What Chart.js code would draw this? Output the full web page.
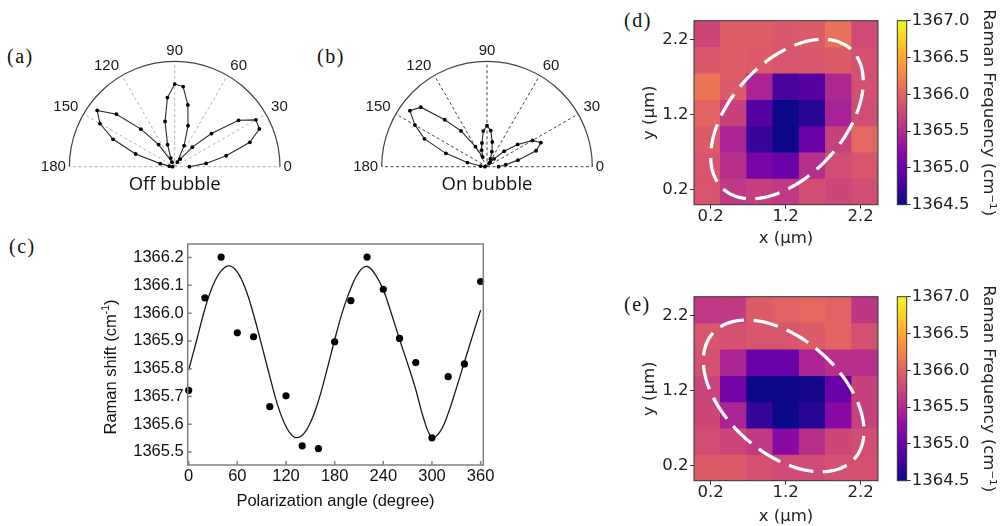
<!DOCTYPE html>
<html>
<head>
<meta charset="utf-8">
<script src="https://cdn.jsdelivr.net/npm/chart.js@4.4.1/dist/chart.umd.min.js"></script>
<style>
  html, body { margin: 0; padding: 0; background: #fff; }
  body { width: 1002px; height: 526px; position: relative; overflow: hidden; }
  canvas { position: absolute; }
  .lbl { position: absolute; font-family: "Liberation Serif", serif; font-size: 20px; letter-spacing: 1.5px; line-height: 1; color: #111; }
</style>
</head>
<body>
<div class="lbl" style="left:7px;top:46px">(a)</div>
<div class="lbl" style="left:317px;top:46px">(b)</div>
<div class="lbl" style="left:9px;top:236px">(c)</div>
<div class="lbl" style="left:624px;top:10px">(d)</div>
<div class="lbl" style="left:624px;top:294px">(e)</div>

<canvas id="polarA" width="280" height="165" style="left:30px;top:35px"></canvas>
<canvas id="polarB" width="280" height="165" style="left:340px;top:35px"></canvas>
<canvas id="shiftC" width="410" height="296" style="left:90px;top:230px"></canvas>
<canvas id="heatD" width="290" height="252" style="left:600px;top:0px"></canvas>
<canvas id="barD" width="112" height="230" style="left:890px;top:0px"></canvas>
<canvas id="heatE" width="290" height="252" style="left:600px;top:276.3px"></canvas>
<canvas id="barE" width="112" height="230" style="left:890px;top:276.3px"></canvas>

<script>
// (a), (b) polarized intensity, one point every 6 degrees
const polarAngles = [0, 6, 12, 18, 24, 30, 36, 42, 48, 54, 60, 66, 72, 78, 84, 90,
  96, 102, 108, 114, 120, 126, 132, 138, 144, 150, 156, 162, 168, 174, 180];
const offBubble = [0.14, 0.30, 0.50, 0.75, 0.88, 0.89, 0.75, 0.47, 0.25, 0.09, 0.05, 0.22, 0.41, 0.60, 0.765, 0.785,
  0.66, 0.44, 0.22, 0.09, 0.05, 0.26, 0.48, 0.745, 0.91, 0.82, 0.64, 0.39, 0.14, 0.05, 0.02];
const onBubble = [0.11, 0.18, 0.30, 0.49, 0.56, 0.50, 0.36, 0.22, 0.10, 0.05, 0.04, 0.08, 0.15, 0.24, 0.345, 0.39,
  0.34, 0.23, 0.165, 0.10, 0.22, 0.42, 0.60, 0.845, 0.905, 0.79, 0.65, 0.41, 0.19, 0.06, 0.02];
const polarTicks = [0, 30, 60, 90, 120, 150, 180];

// (c) Raman shift vs polarization angle
const angleDeg = [0, 20, 40, 60, 80, 100, 120, 140, 160, 180, 200, 220, 240, 260, 280, 300, 320, 340, 360];
const ramanShift = [1365.722, 1366.055, 1366.202, 1365.929, 1365.915, 1365.663, 1365.702, 1365.522, 1365.512,
  1365.897, 1366.045, 1366.202, 1366.086, 1365.909, 1365.822, 1365.551, 1365.771, 1365.817, 1366.114];
const fitAngle = [0, 10, 20, 30, 40, 50, 60, 70, 80, 90, 100, 110, 120, 130, 140, 150, 160, 170, 180,
  190, 200, 210, 220, 230, 240, 250, 260, 270, 280, 290, 300, 310, 320, 330, 340, 350, 360];
const fitShift = [1365.795, 1365.904, 1366.015, 1366.100, 1366.152, 1366.170, 1366.148, 1366.088, 1365.995,
  1365.885, 1365.772, 1365.666, 1365.592, 1365.554, 1365.560, 1365.605, 1365.684, 1365.790, 1365.904,
  1366.008, 1366.090, 1366.148, 1366.168, 1366.140, 1366.084, 1365.998, 1365.906, 1365.818, 1365.725,
  1365.618, 1365.553, 1365.573, 1365.639, 1365.729, 1365.824, 1365.918, 1366.011];
const angleTicks = [0, 60, 120, 180, 240, 300, 360];
const shiftTicks = [1365.5, 1365.6, 1365.7, 1365.8, 1365.9, 1366.0, 1366.1, 1366.2];

// (d), (e) Raman frequency maps, rows listed from top (y = 2.2) to bottom
const xCentres = [0.155, 0.505, 0.855, 1.205, 1.555, 1.905, 2.255];
const yEdges = [0, 0.35, 0.70, 1.05, 1.40, 1.75, 2.10, 2.45];
const mapTicks = [0.2, 1.2, 2.2];
const mapD = [
  [1365.75, 1365.95, 1365.95, 1365.90, 1365.93, 1366.10, 1365.78],
  [1365.90, 1365.95, 1365.93, 1365.88, 1365.90, 1365.93, 1365.83],
  [1366.13, 1365.93, 1365.45, 1364.80, 1364.88, 1365.48, 1365.83],
  [1366.00, 1365.70, 1364.88, 1364.50, 1364.63, 1365.43, 1365.80],
  [1365.93, 1365.45, 1364.70, 1364.50, 1365.00, 1365.70, 1366.03],
  [1365.88, 1365.55, 1365.10, 1365.00, 1365.55, 1365.80, 1365.88],
  [1365.88, 1365.63, 1365.68, 1365.63, 1365.80, 1365.75, 1365.80]
];
const mapE = [
  [1365.63, 1365.65, 1365.93, 1365.98, 1366.03, 1365.98, 1365.60],
  [1365.88, 1365.83, 1365.88, 1365.88, 1365.93, 1366.00, 1365.83],
  [1365.83, 1365.45, 1365.00, 1365.00, 1365.45, 1365.55, 1365.55],
  [1365.73, 1365.05, 1364.50, 1364.50, 1364.55, 1365.00, 1365.70],
  [1365.75, 1365.45, 1364.70, 1364.50, 1364.62, 1365.20, 1365.70],
  [1365.80, 1365.73, 1365.65, 1365.20, 1365.55, 1365.75, 1365.80],
  [1365.93, 1365.93, 1365.83, 1365.78, 1365.78, 1365.83, 1365.83]
];
const cbTicks = [1364.5, 1365.0, 1365.5, 1366.0, 1366.5, 1367.0];

Chart.defaults.font.family = '"Liberation Sans", Arial, sans-serif';
Chart.defaults.font.size = 16.5;
Chart.defaults.color = '#111';

const dejavu = { family: '"DejaVu Sans", sans-serif', size: 16.5 };
const noPlugins = { legend: { display: false }, tooltip: { enabled: false } };

// matplotlib "plasma"
const plasmaStops = [[13, 8, 135], [65, 4, 157], [106, 0, 168], [143, 13, 164], [177, 42, 144], [204, 71, 120],
  [225, 100, 98], [242, 132, 75], [252, 166, 54], [252, 206, 37], [240, 249, 33]];
function plasma(t) {
  t = Math.min(1, Math.max(0, t));
  const s = t * 10, i = Math.min(9, Math.floor(s)), f = s - i;
  const a = plasmaStops[i], b = plasmaStops[i + 1];
  const c = a.map((v, k) => Math.round(v + (b[k] - v) * f));
  return `rgb(${c[0]},${c[1]},${c[2]})`;
}
const cbMin = cbTicks[0], cbMax = cbTicks[cbTicks.length - 1];

// ---------- polar panels ----------
const polarGrid = {
  id: 'polarGrid',
  beforeDatasetsDraw(chart, args, o) {
    const { ctx, scales: { x, y } } = chart;
    const cx = x.getPixelForValue(0), cy = y.getPixelForValue(0);
    const R = x.getPixelForValue(1) - cx;
    ctx.save();
    ctx.setLineDash([3, 2.5]);
    ctx.strokeStyle = o.spokeColor;
    ctx.lineWidth = 1;
    ctx.beginPath();
    polarTicks.forEach(t => {
      const a = t * Math.PI / 180;
      ctx.moveTo(cx, cy);
      ctx.lineTo(cx + R * Math.cos(a), cy - R * Math.sin(a));
    });
    ctx.stroke();
    ctx.setLineDash([]);
    ctx.strokeStyle = o.arcColor;
    ctx.lineWidth = 1.2;
    ctx.beginPath();
    ctx.arc(cx, cy, R, Math.PI, 2 * Math.PI);
    ctx.stroke();

    ctx.fillStyle = '#1a1a1a';
    ctx.font = '15px "Liberation Sans"';
    polarTicks.forEach(t => {
      const a = t * Math.PI / 180;
      const flat = t === 0 || t === 180;
      const pad = flat ? 3.5 : 6;
      ctx.textAlign = t < 90 ? 'left' : (t > 90 ? 'right' : 'center');
      ctx.textBaseline = flat ? 'middle' : 'alphabetic';
      ctx.fillText(String(t), cx + (R + pad) * Math.cos(a), cy - (R + pad) * Math.sin(a));
    });
    ctx.font = '18.5px "Open Sans"';
    ctx.textAlign = 'center';
    ctx.textBaseline = 'alphabetic';
    ctx.fillStyle = '#111';
    ctx.fillText(o.caption, cx, cy + 23.3);
    ctx.restore();
  }
};

function polarChart(id, values, caption, spokeColor, padL, padR) {
  const pts = polarAngles.map((a, i) => ({
    x: values[i] * Math.cos(a * Math.PI / 180),
    y: values[i] * Math.sin(a * Math.PI / 180)
  }));
  return new Chart(document.getElementById(id), {
    type: 'scatter',
    data: { datasets: [{
      data: pts, showLine: true, clip: false,
      borderColor: '#2a2a2a', borderWidth: 1.1,
      pointRadius: 1.9, pointBackgroundColor: '#000', pointBorderWidth: 0
    }] },
    options: {
      responsive: false, animation: false, devicePixelRatio: 1,
      layout: { padding: { left: padL, right: padR, top: 26.4, bottom: 33.3 } },
      plugins: { ...noPlugins, polarGrid: { caption, spokeColor, arcColor: '#444' } },
      scales: {
        x: { display: false, min: -1, max: 1 },
        y: { display: false, min: 0, max: 1 }
      }
    },
    plugins: [polarGrid]
  });
}
polarChart('polarA', offBubble, 'Off bubble', '#b4b4b4', 39.4, 30);
polarChart('polarB', onBubble, 'On bubble', '#444', 41.7, 27.7);

// ---------- (c) ----------
const frameC = {
  id: 'frameC',
  afterDraw(chart) {
    const { ctx, chartArea: a, scales: { x, y } } = chart;
    ctx.save();
    ctx.strokeStyle = '#808080';
    ctx.lineWidth = 1.5;
    ctx.strokeRect(a.left, a.top, a.right - a.left, a.bottom - a.top);
    ctx.beginPath();
    y.ticks.forEach(t => {
      const py = y.getPixelForValue(t.value);
      ctx.moveTo(a.left, py); ctx.lineTo(a.left + 4, py);
    });
    x.ticks.forEach(t => {
      const px = x.getPixelForValue(t.value);
      ctx.moveTo(px, a.bottom); ctx.lineTo(px, a.bottom - 4);
    });
    ctx.stroke();

    // y title with superscript
    const main = 'Raman shift (cm', sup = '-1', end = ')';
    ctx.translate(a.left - 76, (a.top + a.bottom) / 2 + 12.5);
    ctx.rotate(-Math.PI / 2);
    ctx.fillStyle = '#111';
    ctx.textBaseline = 'middle';
    ctx.textAlign = 'left';
    const big = '16.5px "Liberation Sans"', small = '10.5px "Liberation Sans"';
    ctx.font = big;
    const w1 = ctx.measureText(main).width, w3 = ctx.measureText(end).width;
    ctx.font = small;
    const w2 = ctx.measureText(sup).width;
    let sx = -(w1 + w2 + w3) / 2;
    ctx.font = big; ctx.fillText(main, sx, 0); sx += w1;
    ctx.font = small; ctx.fillText(sup, sx, -6); sx += w2;
    ctx.font = big; ctx.fillText(end, sx, 0);
    ctx.restore();
  }
};

new Chart(document.getElementById('shiftC'), {
  type: 'scatter',
  data: { datasets: [
    {
      data: angleDeg.map((a, i) => ({ x: a, y: ramanShift[i] })),
      pointRadius: 3.6, pointBackgroundColor: '#000', pointBorderWidth: 0, clip: false
    },
    {
      data: fitAngle.map((a, i) => ({ x: a, y: fitShift[i] })),
      showLine: true, pointRadius: 0, borderColor: '#1a1a1a', borderWidth: 1.3, tension: 0.4
    }
  ] },
  options: {
    responsive: false, animation: false, devicePixelRatio: 1,
    layout: { padding: { left: 0, right: 16.7, top: 14, bottom: 0 } },
    plugins: noPlugins,
    scales: {
      x: {
        type: 'linear', min: -1.2, max: 363.3,
        afterBuildTicks: s => { s.ticks = angleTicks.map(v => ({ value: v })); },
        afterFit: s => { s.height = 61; },
        grid: { display: false, drawTicks: false }, border: { display: false },
        ticks: { padding: 2, color: '#111' },
        title: { display: true, text: 'Polarization angle (degree)', color: '#111', padding: { top: 0, bottom: 15 } }
      },
      y: {
        min: 1365.453, max: 1366.249,
        afterBuildTicks: s => { s.ticks = shiftTicks.map(v => ({ value: v })); },
        afterFit: s => { s.width = 97.7; },
        grid: { display: false, drawTicks: false }, border: { display: false },
        ticks: { padding: 4, color: '#111', callback: v => v.toFixed(1) }
      }
    }
  },
  plugins: [frameC]
});

// ---------- (d), (e) maps ----------
const mapFrame = {
  id: 'mapFrame',
  afterDatasetsDraw(chart, args, o) {
    const { ctx, chartArea: a, scales: { x, y } } = chart;
    ctx.save();
    if (o.ellipse) {
      const e = o.ellipse, th = e.angle * Math.PI / 180;
      ctx.beginPath();
      for (let k = 0; k <= 160; k++) {
        const p = k / 160 * 2 * Math.PI;
        const u = e.a * Math.cos(p), w = e.b * Math.sin(p);
        const px = x.getPixelForValue(e.cx + u * Math.cos(th) - w * Math.sin(th));
        const py = y.getPixelForValue(e.cy + u * Math.sin(th) + w * Math.cos(th));
        if (k) ctx.lineTo(px, py); else ctx.moveTo(px, py);
      }
      ctx.setLineDash([25, 9.5]);
      ctx.lineWidth = 3.3;
      ctx.strokeStyle = '#fff';
      ctx.stroke();
      ctx.setLineDash([]);
    }
    ctx.strokeStyle = '#333';
    ctx.lineWidth = 1;
    ctx.strokeRect(a.left, a.top, a.right - a.left, a.bottom - a.top);
    ctx.restore();
  }
};

function mapChart(id, rows, ellipse, titleBottom) {
  const datasets = rows.map((row, k) => {
    const r = rows.length - 1 - k;
    return {
      data: row.map((v, i) => ({ x: xCentres[i], y: [yEdges[r], yEdges[r + 1]] })),
      backgroundColor: row.map(v => plasma((v - cbMin) / (cbMax - cbMin))),
      borderWidth: 0, barPercentage: 1, categoryPercentage: 1, grouped: false
    };
  });
  return new Chart(document.getElementById(id), {
    type: 'bar',
    data: { datasets },
    options: {
      responsive: false, animation: false, devicePixelRatio: 1,
      layout: { padding: { left: 0, right: 12, top: 20.7, bottom: 0 } },
      plugins: { ...noPlugins, mapFrame: { ellipse } },
      scales: {
        x: {
          type: 'linear', offset: false, min: -0.02, max: 2.43,
          afterBuildTicks: s => { s.ticks = mapTicks.map(v => ({ value: v })); },
          afterFit: s => { s.height = 47.3; },
          grid: { offset: false, drawOnChartArea: false, drawTicks: true, tickLength: 4, color: '#333' },
          border: { display: false },
          ticks: { padding: 0, font: { ...dejavu, lineHeight: 1 }, color: '#222', callback: v => v.toFixed(1) },
          title: { display: true, text: 'x (µm)', font: dejavu, color: '#222', padding: { top: 0, bottom: titleBottom } }
        },
        y: {
          type: 'linear', min: 0, max: 2.45,
          afterBuildTicks: s => { s.ticks = mapTicks.map(v => ({ value: v })); },
          afterFit: s => { s.width = 94; },
          grid: { drawOnChartArea: false, drawTicks: true, tickLength: 4, color: '#333' },
          border: { display: false },
          ticks: { padding: 1.5, font: dejavu, color: '#222', callback: v => v.toFixed(1) },
          title: { display: true, text: 'y (µm)', font: dejavu, color: '#222', padding: { top: 40.1, bottom: 0 } }
        }
      }
    },
    plugins: [mapFrame]
  });
}

function colorbar(id) {
  return new Chart(document.getElementById(id), {
    type: 'bar',
    data: { labels: [''], datasets: [{
      data: [[cbMin, cbMax]],
      backgroundColor: c => {
        const a = c.chart.chartArea;
        if (!a) return plasma(0.5);
        const g = c.chart.ctx.createLinearGradient(0, a.bottom, 0, a.top);
        plasmaStops.forEach((s, i) => g.addColorStop(i / 10, `rgb(${s[0]},${s[1]},${s[2]})`));
        return g;
      },
      borderWidth: 0, barPercentage: 1, categoryPercentage: 1
    }] },
    options: {
      responsive: false, animation: false, devicePixelRatio: 1,
      layout: { padding: { left: 7.3, right: 0, top: 20.7, bottom: 25.3 } },
      plugins: { ...noPlugins, mapFrame: {} },
      scales: {
        x: { display: false },
        y: {
          position: 'right', min: cbMin, max: cbMax,
          afterBuildTicks: s => { s.ticks = cbTicks.map(v => ({ value: v })); },
          afterFit: s => { s.width = 95.3; },
          grid: { drawOnChartArea: false, drawTicks: true, tickLength: 4, color: '#333' },
          border: { display: false },
          ticks: { padding: 1, font: dejavu, color: '#222', callback: v => v.toFixed(1) },
          title: { display: true, text: 'Raman Frequency (cm⁻¹)', font: dejavu, color: '#222', padding: { top: 3.8, bottom: 0 } }
        }
      }
    },
    plugins: [mapFrame]
  });
}

mapChart('heatD', mapD, { cx: 1.218, cy: 1.141, a: 1.26, b: 0.756, angle: 47.7 }, 3.8);
colorbar('barD');
mapChart('heatE', mapE, { cx: 1.174, cy: 1.129, a: 1.26, b: 0.76, angle: -41.5 }, 1.7);
colorbar('barE');
</script>
</body>
</html>
